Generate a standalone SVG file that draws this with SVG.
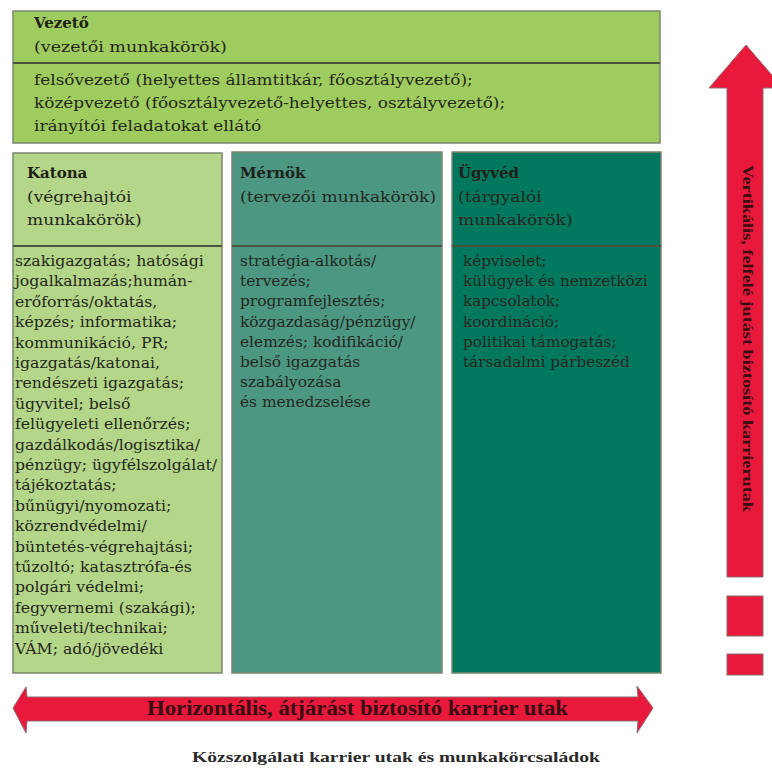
<svg xmlns="http://www.w3.org/2000/svg" width="772" height="769" viewBox="0 0 772 769">
<style>
  .box{stroke:#7b8670;stroke-width:1.5}
  .div{stroke:#4a5240;stroke-width:2}
  .h{font-family:"DejaVu Serif","Liberation Serif",serif;font-weight:bold;font-size:15px;fill:#1f2119}
  .s{font-family:"DejaVu Serif","Liberation Serif",serif;font-size:15.5px;fill:#25271e}
  .b{font-family:"DejaVu Serif","Liberation Serif",serif;font-size:14px;fill:#25271e}
  .red{fill:#e8193a;stroke:#8c6a6e;stroke-width:1}
  .at{font-family:"Liberation Serif","DejaVu Serif",serif;font-weight:bold;fill:#3a0c14}
</style>
<rect width="772" height="769" fill="#ffffff"/>

<g id="vezeto">
  <rect class="box" x="13" y="11" width="647" height="132" fill="#9fcc5f"/>
  <line class="div" x1="13" y1="63" x2="660" y2="63"/>
  <text class="h" x="34" y="28">Vezető</text>
  <g transform="translate(34,0) scale(1.13,1)">
    <text class="s" x="0" y="52">(vezetői munkakörök)</text>
  </g>
  <g class="b" transform="translate(34,0) scale(1.21,1)">
    <text x="0" y="85">felsővezető (helyettes államtitkár, főosztályvezető);</text>
    <text x="0" y="108">középvezető (főosztályvezető-helyettes, osztályvezető);</text>
    <text x="0" y="131">irányítói feladatokat ellátó</text>
  </g>
</g>

<g id="katona">
  <rect class="box" x="13" y="153" width="209" height="520" fill="#b4d688"/>
  <line class="div" x1="13" y1="246" x2="222" y2="246"/>
  <text class="h" x="27" y="178">Katona</text>
  <g class="s" transform="translate(27,0) scale(1.1,1)">
    <text x="0" y="202">(végrehajtói</text>
    <text x="0" y="225">munkakörök)</text>
  </g>
  <g class="b" transform="translate(15,0) scale(1.12,1)">
    <text x="0" y="266">szakigazgatás; hatósági</text>
    <text x="0" y="286.4">jogalkalmazás;humán-</text>
    <text x="0" y="306.8">erőforrás/oktatás,</text>
    <text x="0" y="327.2">képzés; informatika;</text>
    <text x="0" y="347.6">kommunikáció, PR;</text>
    <text x="0" y="368">igazgatás/katonai,</text>
    <text x="0" y="388.4">rendészeti igazgatás;</text>
    <text x="0" y="408.8">ügyvitel; belső</text>
    <text x="0" y="429.2">felügyeleti ellenőrzés;</text>
    <text x="0" y="449.6">gazdálkodás/logisztika/</text>
    <text x="0" y="470">pénzügy; ügyfélszolgálat/</text>
    <text x="0" y="490.4">tájékoztatás;</text>
    <text x="0" y="510.8">bűnügyi/nyomozati;</text>
    <text x="0" y="531.2">közrendvédelmi/</text>
    <text x="0" y="551.6">büntetés-végrehajtási;</text>
    <text x="0" y="572">tűzoltó; katasztrófa-és</text>
    <text x="0" y="592.4">polgári védelmi;</text>
    <text x="0" y="612.8">fegyvernemi (szakági);</text>
    <text x="0" y="633.2">műveleti/technikai;</text>
    <text x="0" y="653.6">VÁM; adó/jövedéki</text>
  </g>
</g>

<g id="mernok">
  <rect class="box" x="232" y="152" width="210" height="521" fill="#4b9782"/>
  <line class="div" x1="232" y1="246" x2="442" y2="246"/>
  <text class="h" x="240" y="178">Mérnök</text>
  <g class="s" transform="translate(240,0) scale(1.1,1)">
    <text x="0" y="202">(tervezői munkakörök)</text>
  </g>
  <g class="b" transform="translate(240,0) scale(1.1,1)">
    <text x="0" y="266">stratégia-alkotás/</text>
    <text x="0" y="286.2">tervezés;</text>
    <text x="0" y="306.4">programfejlesztés;</text>
    <text x="0" y="326.6">közgazdaság/pénzügy/</text>
    <text x="0" y="346.8">elemzés; kodifikáció/</text>
    <text x="0" y="367">belső igazgatás</text>
    <text x="0" y="387.2">szabályozása</text>
    <text x="0" y="407.4">és menedzselése</text>
  </g>
</g>

<g id="ugyved">
  <rect class="box" x="452" y="152" width="209" height="521" fill="#00785e"/>
  <line class="div" x1="452" y1="246" x2="661" y2="246"/>
  <text class="h" x="458" y="178">Ügyvéd</text>
  <g class="s" transform="translate(458,0) scale(1.1,1)">
    <text x="0" y="202">(tárgyalói</text>
    <text x="0" y="225">munkakörök)</text>
  </g>
  <g class="b" transform="translate(463,0) scale(1.09,1)">
    <text x="0" y="266">képviselet;</text>
    <text x="0" y="286.2">külügyek és nemzetközi</text>
    <text x="0" y="306.4">kapcsolatok;</text>
    <text x="0" y="326.6">koordináció;</text>
    <text x="0" y="346.8">politikai támogatás;</text>
    <text x="0" y="367">társadalmi párbeszéd</text>
  </g>
</g>

<g id="connectors">
  <g id="vertical-arrow">
    <path class="red" d="M746,45 L783,88 L763,88 L763,577 L727,577 L727,88 L709,88 Z"/>
    <rect class="red" x="727" y="596" width="36" height="40"/>
    <rect class="red" x="727" y="654" width="36" height="21"/>
    <text class="at" font-size="14" transform="translate(743,165) rotate(90)" textLength="347" lengthAdjust="spacingAndGlyphs">Vertikális, felfelé jutást biztosító karrierutak</text>
  </g>
  <g id="horizontal-arrow">
    <path class="red" d="M13,708 L26,687 L27,697 L638,697 L637,686 L653,708 L637,733 L638,721 L27,721 L26,733 Z"/>
    <text class="at" font-size="20" x="147" y="715" textLength="421" lengthAdjust="spacingAndGlyphs">Horizontális, átjárást biztosító karrier utak</text>
  </g>
</g>

<text x="192" y="762" font-family="'Liberation Serif','DejaVu Serif',serif" font-weight="bold" font-size="14" fill="#2a2a2a" textLength="408" lengthAdjust="spacingAndGlyphs">Közszolgálati karrier utak és munkakörcsaládok</text>
</svg>
